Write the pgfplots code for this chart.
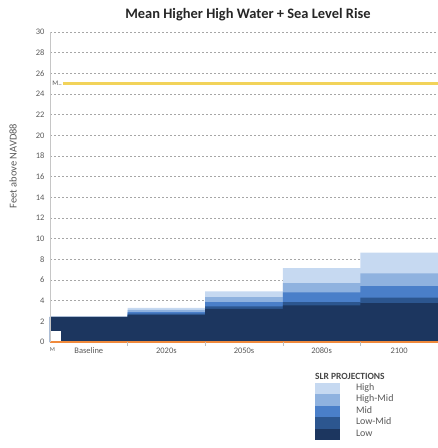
\documentclass[border=0pt]{standalone}
\usepackage{pgfplots}
\pgfplotsset{compat=1.18}
\usepackage{pgfplotstable}
\usepackage{fontspec}
\setmainfont{Carlito}
\definecolor{cHigh}{HTML}{C6D9F1}
\definecolor{cHighMid}{HTML}{8FB2DF}
\definecolor{cMid}{HTML}{4A7FC9}
\definecolor{cLowMid}{HTML}{2C568F}
\definecolor{cLow}{HTML}{1C365F}
\definecolor{cYellow}{HTML}{F2D35A}
\definecolor{cOrange}{HTML}{F08A3C}
\definecolor{cText}{HTML}{595959}
\definecolor{cGrid}{HTML}{A6A6A6}
\pgfplotstableread{
x Low LowMid Mid HighMid High
0 2.42 2.42 2.42 2.42 2.42
1 2.60 2.75 2.90 3.10 3.30
2 3.20 3.45 3.85 4.35 4.90
3 3.55 3.85 4.80 5.70 7.15
4 3.75 4.30 5.40 6.65 8.65
5 3.75 4.30 5.40 6.65 8.65
}\slr
\begin{document}
\begin{tikzpicture}
\useasboundingbox (0,0) rectangle (438bp,448bp);
\begin{axis}[
  at={(50bp,106bp)}, anchor=origin,
  scale only axis, width=388bp, height=310bp,
  xmin=0, xmax=5, ymin=0, ymax=30,
  clip=false,
  axis line style={draw=none},
  ytick={0,2,...,30},
  ymajorgrids=true,
  y grid style={draw=cGrid, line width=0.8bp, dash pattern=on 2bp off 2bp},
  ytick style={draw=none},
  xtick={0.5,1.5,2.5,3.5,4.5},
  xticklabels={Baseline,2020s,2050s,2080s,2100},
  xtick style={draw=none},
  xtick pos=bottom, ytick pos=left,
  tick label style={font=\fontsize{8.5}{9}\selectfont, text=cText},
  yticklabel style={/pgf/number format/assume math mode=true, xshift=-2bp},
  xticklabel style={yshift=-2bp},
  legend style={at={(0.683,-0.132)}, anchor=north west, draw=none, fill=none,
    inner sep=0pt, outer sep=0pt, row sep=0pt,
    font=\fontsize{10}{11}\selectfont, text=cText,
    nodes={inner sep=0pt, text height=7.5bp, text depth=3.9bp},
    /tikz/every odd column/.append style={column sep=16bp}},
  legend image code/.code={\fill[#1] (0bp,-5.7bp) rectangle (25bp,5.7bp);},
  legend cell align=left,
]
\addplot [const plot, fill=cHigh, draw=none] table [x=x, y=High] {\slr} \closedcycle;
\addlegendentry{High}
\addplot [const plot, fill=cHighMid, draw=none] table [x=x, y=HighMid] {\slr} \closedcycle;
\addlegendentry{High-Mid}
\addplot [const plot, fill=cMid, draw=none] table [x=x, y=Mid] {\slr} \closedcycle;
\addlegendentry{Mid}
\addplot [const plot, fill=cLowMid, draw=none] table [x=x, y=LowMid] {\slr} \closedcycle;
\addlegendentry{Low-Mid}
\addplot [const plot, fill=cLow, draw=none] table [x=x, y=Low] {\slr} \closedcycle;
\addlegendentry{Low}
\addplot [cYellow, line width=3bp, forget plot] coordinates {(0,25) (5,25)};
\addplot [cOrange, line width=1.4bp, forget plot] coordinates {(0,0) (5,0)};
\draw[gray!45, line width=0.8pt] (axis cs:0,0) -- (axis cs:0,30);
\pgfplotsinvokeforeach{1,2,3,4}{\draw[gray!50, line width=0.6pt] (axis cs:#1,0) -- ++(0,-4bp);}
\node[anchor=west, fill=white, inner sep=1bp, font=\fontsize{7}{7}\selectfont, text=cText] at (axis cs:0.015,25) {M..};
\node[anchor=south west, fill=white, inner sep=0pt, minimum width=10bp, minimum height=10bp] at (axis cs:0.008,0.05) {};
\node[anchor=south, inner sep=0pt, font=\fontsize{6}{6}\selectfont, text=cText] at (axis cs:0.03,-0.95) {M};
\node[anchor=west, inner sep=0pt, font=\bfseries\fontsize{9.5}{10}\selectfont, text=cText!80!black] at (rel axis cs:0.683,-0.11) {SLR PROJECTIONS};
\end{axis}
\node[font=\bfseries\fontsize{14.5}{16}\selectfont, text=black!85] at (248bp,433bp) {Mean Higher High Water + Sea Level Rise};
\node[rotate=90, font=\fontsize{10.5}{11}\selectfont, text=cText] at (13bp,282bp) {Feet above NAVD88};
\end{tikzpicture}
\end{document}
